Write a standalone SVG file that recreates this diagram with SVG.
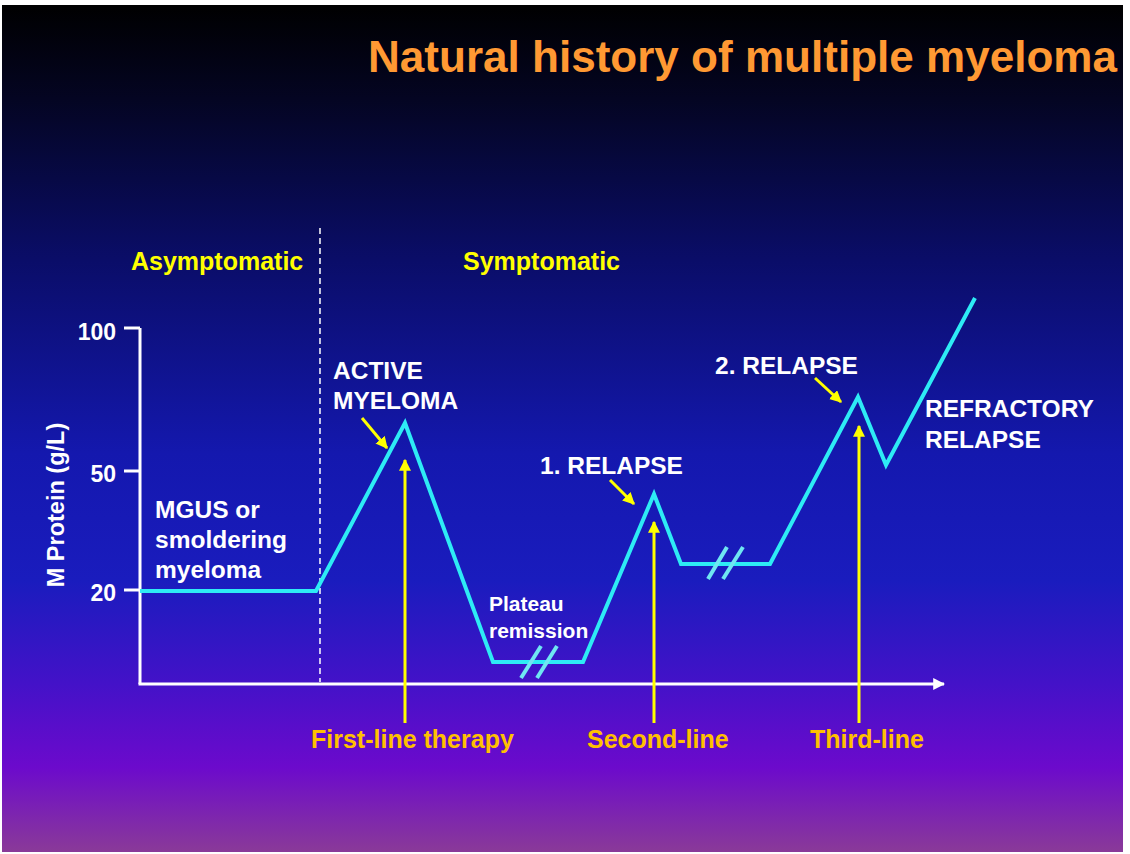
<svg xmlns="http://www.w3.org/2000/svg" width="1130" height="854" viewBox="0 0 1130 854">
<defs>
<linearGradient id="bg" x1="0" y1="5" x2="0" y2="852" gradientUnits="userSpaceOnUse">
<stop offset="0" stop-color="#000000"/>
<stop offset="0.11" stop-color="#040522"/>
<stop offset="0.30" stop-color="#0a0d68"/>
<stop offset="0.53" stop-color="#1418ae"/>
<stop offset="0.68" stop-color="#1a1cbe"/>
<stop offset="0.80" stop-color="#4312c8"/>
<stop offset="0.90" stop-color="#6c0acc"/>
<stop offset="1" stop-color="#8a3a98"/>
</linearGradient>
<marker id="ya" viewBox="0 0 10 10" refX="9" refY="5" markerWidth="4" markerHeight="4" orient="auto" markerUnits="strokeWidth">
<path d="M0,0 L10,5 L0,10 Z" fill="#FFFF00"/>
</marker>
<marker id="wa" viewBox="0 0 10 10" refX="9" refY="5" markerWidth="4" markerHeight="4" orient="auto" markerUnits="strokeWidth">
<path d="M0,0 L10,5 L0,10 Z" fill="#FFFFFF"/>
</marker>
<style>
.t{font-family:"Liberation Sans",Arial,sans-serif;font-weight:bold}
.w{fill:#FFFFFF;font-size:24.5px}
.yl{fill:#FFFF00;font-size:25px}
.gl{fill:#FFC000;font-size:25px}
.tick{fill:#FFFFFF;font-size:23px;text-anchor:end}
.axis{stroke:#FFFFFF;stroke-width:3;fill:none}
.curve{stroke:#2EEBF5;stroke-width:4;fill:none;stroke-linejoin:miter}
.brk{stroke:#6FE6F2;stroke-width:4}
.varr{stroke:#FFFF00;stroke-width:3;marker-end:url(#ya)}
.darr{stroke:#FFFF00;stroke-width:3;marker-end:url(#ya)}
</style>
</defs>
<rect x="0" y="0" width="1130" height="854" fill="#FFFFFF"/>
<rect x="2" y="5" width="1121" height="847" fill="url(#bg)"/>

<text id="title" class="t" x="368" y="72" font-size="44" fill="#FF9933" textLength="749" lengthAdjust="spacingAndGlyphs">Natural history of multiple myeloma</text>

<g id="phase-divider">
<line x1="320" y1="228" x2="320" y2="682" stroke="#FFFFFF" stroke-width="1.5" stroke-dasharray="6,4"/>
</g>
<g id="asymptomatic"><text class="t yl" x="131" y="270">Asymptomatic</text></g>
<g id="symptomatic"><text class="t yl" x="463" y="270">Symptomatic</text></g>

<g id="axes">
<line class="axis" x1="140" y1="328" x2="140" y2="684"/>
<line class="axis" x1="124" y1="328" x2="140" y2="328"/>
<line class="axis" x1="124" y1="471" x2="140" y2="471"/>
<line class="axis" x1="124" y1="590" x2="140" y2="590"/>
<line class="axis" x1="138.5" y1="684" x2="944" y2="684" marker-end="url(#wa)"/>
<text class="t tick" x="116" y="340">100</text>
<text class="t tick" x="116" y="482">50</text>
<text class="t tick" x="116" y="601">20</text>
<text class="t" x="0" y="0" font-size="23.5" fill="#FFFFFF" text-anchor="middle" transform="translate(64,505) rotate(-90)">M Protein (g/L)</text>
</g>

<g id="curve">
<polyline class="curve" points="140,591 316,591 405,423 493,662 583,662 654,494 681,564 770,564 858,397 886,465 975,298"/>
<line class="brk" x1="541" y1="646" x2="521" y2="678"/>
<line class="brk" x1="557" y1="646" x2="537" y2="678"/>
<line class="brk" x1="727" y1="547" x2="708" y2="579"/>
<line class="brk" x1="743" y1="547" x2="723" y2="579"/>
</g>

<g id="connectors">
<line class="varr" x1="405" y1="723" x2="405" y2="460"/>
<line class="varr" x1="654" y1="723" x2="654" y2="522"/>
<line class="varr" x1="859" y1="723" x2="859" y2="426"/>
<line class="darr" x1="362" y1="418" x2="387" y2="448"/>
<line class="darr" x1="610" y1="480" x2="634" y2="504"/>
<line class="darr" x1="815" y1="378" x2="841" y2="402"/>
</g>

<g id="mgus"><text class="t w"><tspan x="155" y="518">MGUS or</tspan><tspan x="155" y="548">smoldering</tspan><tspan x="155" y="578">myeloma</tspan></text></g>
<g id="active-myeloma"><text class="t w"><tspan x="333" y="379">ACTIVE</tspan><tspan x="333" y="409">MYELOMA</tspan></text></g>
<g id="plateau"><text class="t" font-size="21" fill="#FFFFFF"><tspan x="489" y="611">Plateau</tspan><tspan x="489" y="638">remission</tspan></text></g>
<g id="relapse1"><text class="t w" x="540" y="474">1. RELAPSE</text></g>
<g id="relapse2"><text class="t w" x="715" y="374">2. RELAPSE</text></g>
<g id="refractory"><text class="t w"><tspan x="925" y="417">REFRACTORY</tspan><tspan x="925" y="448">RELAPSE</tspan></text></g>

<g id="first-line"><text class="t gl" x="311" y="748">First-line therapy</text></g>
<g id="second-line"><text class="t gl" x="587" y="748">Second-line</text></g>
<g id="third-line"><text class="t gl" x="810" y="748">Third-line</text></g>
</svg>
